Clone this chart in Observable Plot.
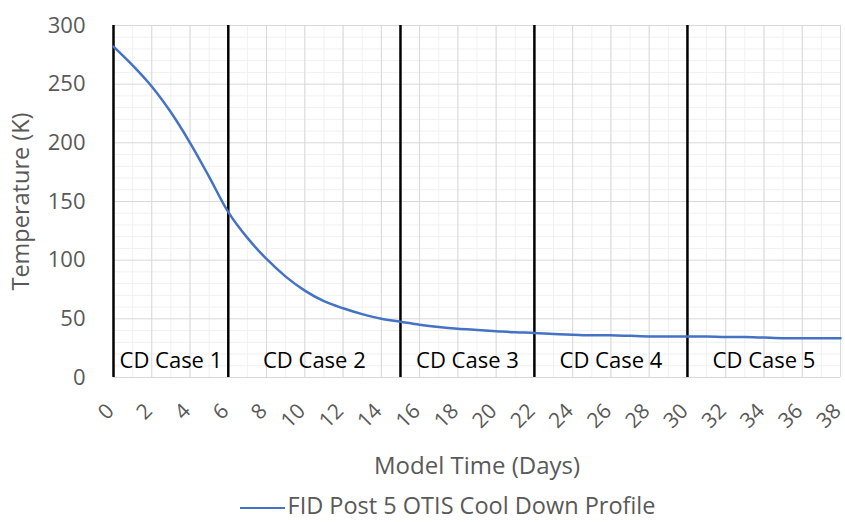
<!DOCTYPE html>
<html><head><meta charset="utf-8">
<script src="https://cdn.jsdelivr.net/npm/d3@7"></script>
<script src="https://cdn.jsdelivr.net/npm/@observablehq/plot@0.6"></script>
<style>
body{margin:0;background:#fff;font-family:"Open Sans",sans-serif;}
#wrap{position:relative;width:845px;height:522px;overflow:hidden;}
#legend{position:absolute;top:490px;left:0;width:845px;padding-left:50px;box-sizing:border-box;text-align:center;font-size:23.5px;line-height:31px;color:#595959;white-space:nowrap;}
.sw{display:inline-block;width:45px;height:0;border-top:2.5px solid #4472C4;vertical-align:middle;margin-right:3px;}
</style></head><body><div id="wrap"></div>
<script>
// Model time (days) and temperature (K)
const days  = [0,1,2,3,4,5,6,7,8,9,10,11,12,13,14,15,16,17,18,19,20,21,22,23,24,25,26,27,28,29,30,31,32,33,34,35,36,37,38];
const temps = [282,266,248,226,200,171,141,119,101,86,74,65,59,54,50,47.5,45,43,41.5,40.5,39.5,38.5,38,37,36.5,36,36,35.5,35,35,35,35,34.5,34.5,34,33.5,33.5,33.5,33.5];
const seriesName = "FID Post 5 OTIS Cool Down Profile";
// Cool-down case boundaries (days) and names
const caseBounds = [0,6,15,22,30];
const caseNames = ["CD Case 1","CD Case 2","CD Case 3","CD Case 4","CD Case 5"];
const xEnd = 38;
// Tick labels
const xTicks = [0,2,4,6,8,10,12,14,16,18,20,22,24,26,28,30,32,34,36,38];
const yTicks = [0,50,100,150,200,250,300];
const minorY = [10,20,30,40,60,70,80,90,110,120,130,140,160,170,180,190,210,220,230,240,260,270,280,290];

const caseCenters = caseNames.map((_, i) => (caseBounds[i] + (i + 1 < caseBounds.length ? caseBounds[i + 1] : xEnd)) / 2);
const series = days.map((d, i) => ({day: d, temp: temps[i]}));

const font = "'Open Sans', sans-serif";
const chart = Plot.plot({
  width: 845, height: 480,
  marginTop: 25, marginLeft: 113, marginRight: 5, marginBottom: 103,
  style: {fontFamily: font, fontSize: "20px", color: "#595959", background: "#fff", overflow: "visible"},
  x: {domain: [0, xEnd]},
  y: {domain: [0, 300]},
  marks: [
    Plot.ruleX(days, {stroke: "#f1f1f1", strokeWidth: 1}),
    Plot.ruleY(minorY, {stroke: "#f1f1f1", strokeWidth: 1}),
    Plot.gridX(xTicks, {stroke: "#d9d9d9", strokeOpacity: 1}),
    Plot.gridY(yTicks, {stroke: "#d9d9d9", strokeOpacity: 1}),
    Plot.ruleY([0], {stroke: "#d9d9d9"}),
    Plot.ruleX(caseBounds, {stroke: "#000", strokeWidth: 2.5}),
    Plot.lineY(series, {x: "day", y: "temp", stroke: "#4472C4", strokeWidth: 2.5, curve: "catmull-rom"}),
    Plot.text(caseNames, {x: caseCenters, frameAnchor: "bottom", dy: -10, fill: "#000", fontSize: 22, fontFamily: font}),
    Plot.axisY(yTicks, {tickSize: 0, tickPadding: 28, fontSize: 22, label: null}),
    Plot.axisY([], {tickSize: 0, fontSize: 23.5, label: "Temperature (K)", labelAnchor: "center", labelArrow: "none", labelOffset: 101}),
    Plot.axisX(xTicks, {tickSize: 0, tickPadding: 30, tickRotate: -45, fontSize: 21, dx: -3, label: null}),
    Plot.axisX([], {tickSize: 0, fontSize: 24, label: "Model Time (Days)", labelAnchor: "center", labelArrow: "none", labelOffset: 96})
  ]
});
const wrap = document.getElementById("wrap");
wrap.appendChild(chart);
const leg = document.createElement("div");
leg.id = "legend";
leg.innerHTML = '<span class="sw"></span>' + seriesName;
wrap.appendChild(leg);
</script></body></html>
